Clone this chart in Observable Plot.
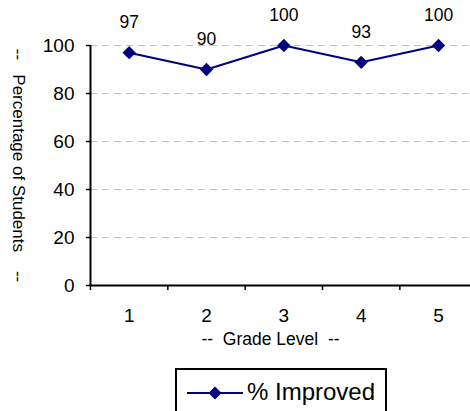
<!DOCTYPE html>
<html>
<head>
<meta charset="utf-8">
<script src="https://cdn.jsdelivr.net/npm/d3@7"></script>
<script src="https://cdn.jsdelivr.net/npm/@observablehq/plot@0.6"></script>
<style>
  html, body { margin: 0; padding: 0; background: #fff; overflow: hidden; width: 470px; height: 411px; }
  #wrap { position: relative; width: 470px; height: 411px; font-family: "Liberation Sans", Arial, Helvetica, sans-serif; }
  #legend { position: absolute; left: 175px; top: 368px; width: 212px; height: 60px; border: 2px solid #000; box-sizing: border-box; background: #fff; }
  #legend svg { position: absolute; left: 8px; top: 15px; }
  #legend span { position: absolute; left: 70px; top: 8px; font-size: 24px; color: #000; line-height: 28px; white-space: nowrap; }
</style>
</head>
<body>
<div id="wrap">
  <div id="chart"></div>
  <div id="legend">
    <svg width="60" height="16"><line x1="2" y1="8" x2="58" y2="8" stroke="#000080" stroke-width="2"/><path d="M30,1.5L36.5,8L30,14.5L23.5,8Z" fill="#000080"/></svg>
    <span>% Improved</span>
  </div>
</div>
<script>
const grades = [1, 2, 3, 4, 5];
const improved = [97, 90, 100, 93, 100];
const yTicks = [0, 20, 40, 60, 80, 100];
const seriesName = "% Improved";
const xTitle = "--\u00a0\u00a0Grade Level\u00a0\u00a0--";
const yTitle = "--\u00a0\u00a0\u00a0Percentage of Students\u00a0\u00a0\u00a0\u00a0--";

const data = grades.map((g, i) => ({grade: g, value: improved[i], series: seriesName}));
const bandEdges = grades.map(g => g - 0.5);

const chart = Plot.plot({
  width: 470,
  height: 362,
  marginTop: 45,
  marginBottom: 77,
  marginLeft: 90,
  marginRight: 0,
  style: {fontFamily: "'Liberation Sans', Arial, Helvetica, sans-serif", fontSize: "19px", background: "#fff", color: "#000"},
  x: {domain: [0.5, 5.5], range: [90, 476.7]},
  y: {domain: [0, 100], range: [285, 45]},
  marks: [
    Plot.gridY(yTicks.filter(t => t > 0), {stroke: "#c0c0c0", strokeOpacity: 1, strokeDasharray: "7,5", strokeWidth: 1}),
    Plot.axisY({ticks: yTicks, tickSize: 4, tickPadding: 12, label: null, tickFormat: d => String(d), strokeWidth: 1.5}),
    Plot.axisX({ticks: bandEdges, tickSize: 5, tickFormat: () => "", label: null, strokeWidth: 1.5}),
    Plot.axisX({ticks: grades, tickSize: 0, tickPadding: 23, label: null, tickFormat: d => String(d)}),
    Plot.ruleY([0], {stroke: "#000", strokeWidth: 2}),
    Plot.ruleX([0.5], {y1: 0, y2: 100, stroke: "#000", strokeWidth: 2}),
    Plot.line(data, {x: "grade", y: "value", stroke: "#000080", strokeWidth: 2}),
    Plot.dot(data, {x: "grade", y: "value", symbol: "diamond2", r: 6, fill: "#000080", stroke: "none"}),
    Plot.text(data, {x: "grade", y: "value", text: d => String(d.value), dy: -30, fontSize: 17.5, fill: "#000"}),
    Plot.text([xTitle], {frameAnchor: "bottom", lineAnchor: "middle", dx: -10, dy: 54, fontSize: 17.5, fill: "#000"}),
    Plot.text([yTitle], {frameAnchor: "left", textAnchor: "middle", lineAnchor: "middle", dx: -72, rotate: 90, fontSize: 17, fill: "#000"})
  ]
});
document.getElementById("chart").appendChild(chart);
</script>
</body>
</html>
